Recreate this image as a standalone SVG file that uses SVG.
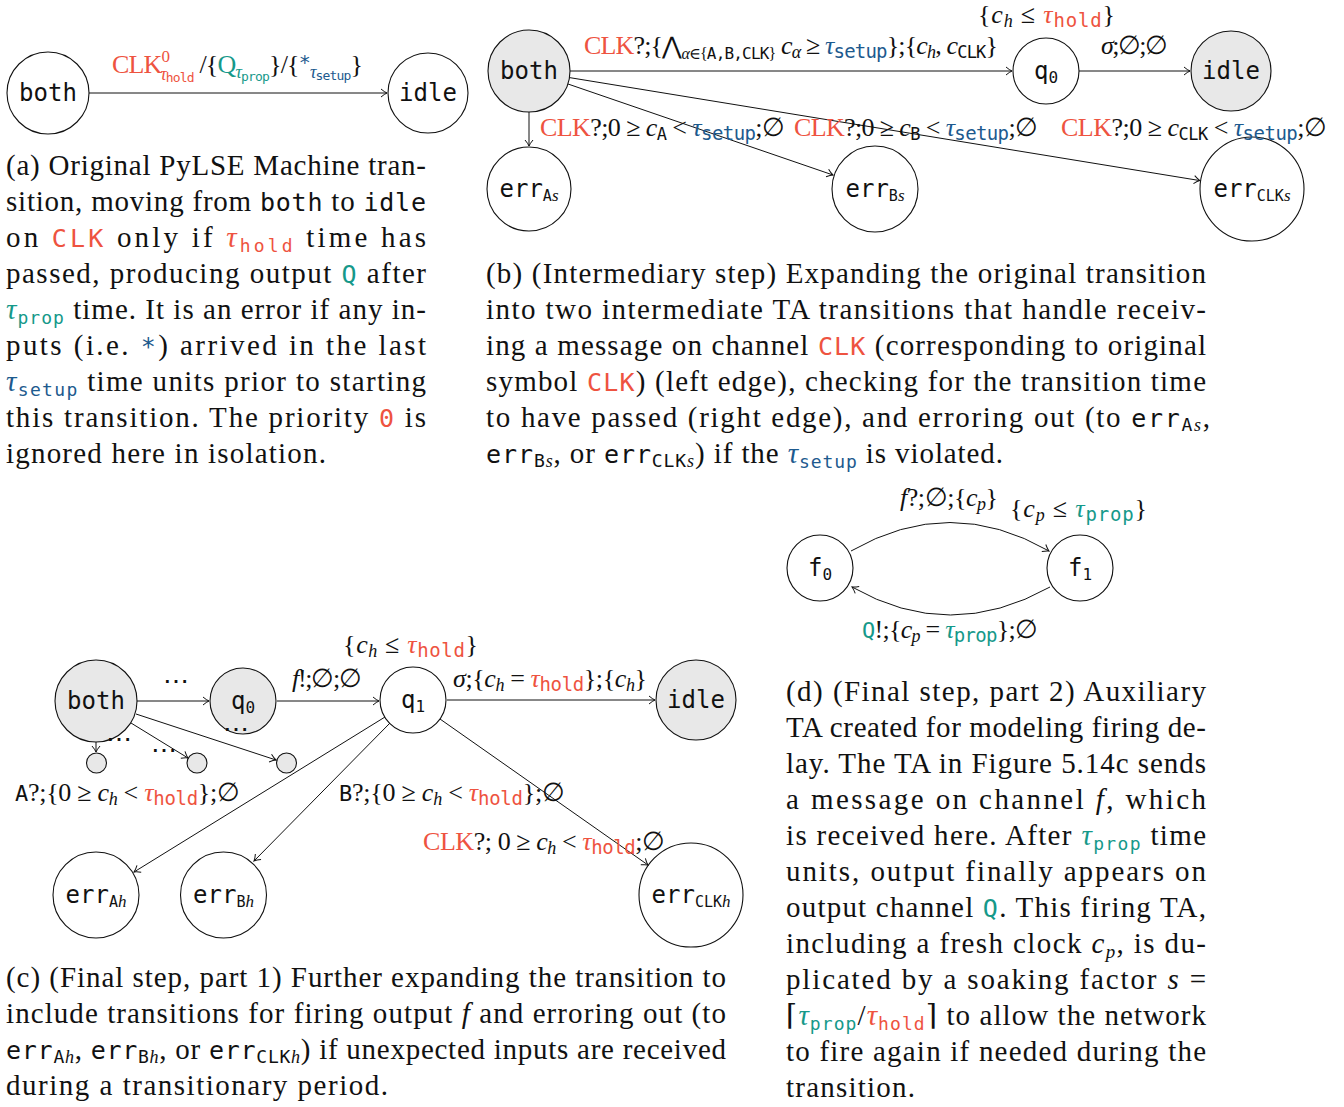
<svg xmlns="http://www.w3.org/2000/svg" width="1344" height="1107" viewBox="0 0 1344 1107">
<defs>
<marker id="ar" markerWidth="12" markerHeight="12" refX="10" refY="6" orient="auto" markerUnits="userSpaceOnUse">
<path d="M4,2 Q7.5,5 10,6 Q7.5,7 4,10" fill="none" stroke="#111" stroke-width="1"/>
</marker>
</defs>
<style>
.cap{font-family:"Liberation Serif","DejaVu Serif",serif;font-size:29px;fill:#111}
.lb{font-family:"Liberation Serif","DejaVu Serif",serif;font-size:26px;fill:#111}
.tt{font-family:"DejaVu Sans Mono","Liberation Mono",monospace}
.tc{font-family:"DejaVu Sans Mono","Liberation Mono",monospace;font-size:25px}
.ts{font-family:"DejaVu Sans Mono","Liberation Mono",monospace;font-size:18px}
.it{font-style:italic}
.r{fill:#EE5340}
.t{fill:#16998A}
.b{fill:#1D5A8E}
.nd{fill:#fff;stroke:#111;stroke-width:1.1}
.g{fill:#e8e8e8}
.e{fill:none;stroke:#111;stroke-width:1;marker-end:url(#ar)}
.nl{font-family:"DejaVu Sans Mono","Liberation Mono",monospace;font-size:24px;fill:#111;text-anchor:middle}
</style>

<!-- (a) -->
<g id="a-both"><circle class="nd" cx="48" cy="93" r="41"/><text class="nl" x="48" y="101">both</text></g>
<g id="a-idle"><circle class="nd" cx="428" cy="93" r="40"/><text class="nl" x="428" y="101">idle</text></g>

<!-- (b) -->
<g id="b-both"><circle class="nd g" cx="529" cy="71" r="41"/><text class="nl" x="529" y="79">both</text></g>
<g id="b-q0"><circle class="nd" cx="1046" cy="71" r="33"/><text class="nl" x="1046" y="79">q<tspan font-size="16" dy="4">0</tspan></text></g>
<g id="b-idle"><circle class="nd g" cx="1231" cy="71" r="40"/><text class="nl" x="1231" y="79">idle</text></g>
<g id="b-errA"><circle class="nd" cx="529" cy="189" r="42"/><text class="nl" x="529" y="197">err<tspan font-size="15" dy="4">A</tspan><tspan class="it" font-family="Liberation Serif" font-size="17">s</tspan></text></g>
<g id="b-errB"><circle class="nd" cx="875" cy="189" r="43"/><text class="nl" x="875" y="197">err<tspan font-size="15" dy="4">B</tspan><tspan class="it" font-family="Liberation Serif" font-size="17">s</tspan></text></g>
<g id="b-errCLK"><circle class="nd" cx="1252" cy="189" r="52"/><text class="nl" x="1252" y="197">err<tspan font-size="15" dy="4">CLK</tspan><tspan class="it" font-family="Liberation Serif" font-size="17">s</tspan></text></g>

<!-- (c) -->
<g id="c-both"><circle class="nd g" cx="96" cy="701" r="41"/><text class="nl" x="96" y="709">both</text></g>
<g id="c-q0"><circle class="nd g" cx="243" cy="701" r="33"/><text class="nl" x="243" y="709">q<tspan font-size="16" dy="4">0</tspan></text></g>
<g id="c-q1"><circle class="nd" cx="413" cy="700" r="33"/><text class="nl" x="413" y="708">q<tspan font-size="16" dy="4">1</tspan></text></g>
<g id="c-idle"><circle class="nd g" cx="696" cy="700" r="40"/><text class="nl" x="696" y="708">idle</text></g>
<g id="c-s1"><circle class="nd g" cx="96.5" cy="763" r="10"/></g>
<g id="c-s2"><circle class="nd g" cx="197" cy="763" r="10"/></g>
<g id="c-s3"><circle class="nd g" cx="286.5" cy="763" r="10"/></g>
<g id="c-errA"><circle class="nd" cx="96" cy="895" r="43"/><text class="nl" x="96" y="903">err<tspan font-size="15" dy="4">A</tspan><tspan class="it" font-family="Liberation Serif" font-size="17">h</tspan></text></g>
<g id="c-errB"><circle class="nd" cx="223.5" cy="895" r="43"/><text class="nl" x="223.5" y="903">err<tspan font-size="15" dy="4">B</tspan><tspan class="it" font-family="Liberation Serif" font-size="17">h</tspan></text></g>
<g id="c-errCLK"><circle class="nd" cx="691" cy="895" r="52"/><text class="nl" x="691" y="903">err<tspan font-size="15" dy="4">CLK</tspan><tspan class="it" font-family="Liberation Serif" font-size="17">h</tspan></text></g>

<!-- (d) -->
<g id="d-f0"><circle class="nd" cx="820" cy="568" r="33"/><text class="nl" x="820" y="576">f<tspan font-size="16" dy="4">0</tspan></text></g>
<g id="d-f1"><circle class="nd" cx="1080" cy="568" r="33"/><text class="nl" x="1080" y="576">f<tspan font-size="16" dy="4">1</tspan></text></g>

<g id="connectors">
<line class="e" x1="89" y1="93" x2="387" y2="93"/>
<line class="e" x1="570" y1="71" x2="1012" y2="71" stroke="#444" stroke-width="1.3"/>
<line class="e" x1="1079" y1="71" x2="1190" y2="71"/>
<line class="e" x1="529" y1="112" x2="529" y2="146"/>
<line class="e" x1="568" y1="84" x2="833" y2="175"/>
<line class="e" x1="569.5" y1="77.6" x2="1200" y2="180.6"/>
<line class="e" x1="137" y1="701" x2="209" y2="701"/>
<line class="e" x1="277" y1="701" x2="379" y2="701"/>
<line class="e" x1="447" y1="700" x2="655" y2="700"/>
<line class="e" x1="96" y1="742" x2="96" y2="752"/>
<line class="e" x1="131" y1="723" x2="188" y2="758"/>
<line class="e" x1="136" y1="714" x2="276" y2="760"/>
<line class="e" x1="385" y1="717" x2="134" y2="872"/>
<line class="e" x1="390" y1="723" x2="254" y2="861"/>
<line class="e" x1="440" y1="719" x2="648" y2="865"/>
<path class="e" d="M851,551 Q950,494 1049,551"/>
<path class="e" d="M1050,587 Q950,643 852,587"/>
</g>

<g id="labels">
<!-- (a) -->
<text class="lb" x="112" y="73" font-size="24" textLength="251"><tspan class="r">CLK</tspan><tspan class="r" font-size="17" dy="-11">0</tspan><tspan class="r it" font-size="18" dx="-9" dy="18">τ</tspan><tspan class="r tt" font-size="13" dy="2">hold</tspan><tspan dy="-9"> /{</tspan><tspan class="t">Q</tspan><tspan class="t it" font-size="18" dy="5">τ</tspan><tspan class="t tt" font-size="13" dy="3">prop</tspan><tspan dy="-8">}/{</tspan><tspan class="b tt" font-size="20" dy="-4">*</tspan><tspan class="b it" font-size="18" dy="9">τ</tspan><tspan class="b tt" font-size="13" dy="2">setup</tspan><tspan dy="-7">}</tspan></text>

<!-- (b) -->
<text class="lb" x="584" y="54" textLength="414"><tspan class="r">CLK</tspan>?;{<tspan font-size="24">⋀</tspan><tspan font-size="16" dy="5"><tspan class="it">α</tspan>∈{<tspan class="tt">A,B,CLK</tspan>}</tspan><tspan dy="-5"> </tspan><tspan class="it">c</tspan><tspan class="it" font-size="18" dy="4">α</tspan><tspan dy="-4"> ≥ </tspan><tspan class="b it">τ</tspan><tspan class="b tt" font-size="19" dy="4">setup</tspan><tspan dy="-4">};{</tspan><tspan class="it">c</tspan><tspan class="it" font-size="18" dy="4">h</tspan><tspan dy="-4">, </tspan><tspan class="it">c</tspan><tspan class="tt" font-size="17" dy="4">CLK</tspan><tspan dy="-4">}</tspan></text>
<text class="lb" x="978" y="23" textLength="137">{<tspan class="it">c</tspan><tspan class="it" font-size="18" dy="4">h</tspan><tspan dy="-4"> ≤ </tspan><tspan class="r it">τ</tspan><tspan class="r tt" font-size="19" dy="4">hold</tspan><tspan dy="-4">}</tspan></text>
<text class="lb" x="1101" y="54" textLength="67"><tspan class="it">σ</tspan>;∅;∅</text>
<text class="lb" x="540" y="136" textLength="245"><tspan class="r">CLK</tspan>?;0 ≥ <tspan class="it">c</tspan><tspan class="tt" font-size="17" dy="4">A</tspan><tspan dy="-4"> &lt; </tspan><tspan class="b it">τ</tspan><tspan class="b tt" font-size="19" dy="4">setup</tspan><tspan dy="-4">;∅</tspan></text>
<text class="lb" x="794" y="136" textLength="244"><tspan class="r">CLK</tspan>?;0 ≥ <tspan class="it">c</tspan><tspan class="tt" font-size="17" dy="4">B</tspan><tspan dy="-4"> &lt; </tspan><tspan class="b it">τ</tspan><tspan class="b tt" font-size="19" dy="4">setup</tspan><tspan dy="-4">;∅</tspan></text>
<text class="lb" x="1061" y="136" textLength="266"><tspan class="r">CLK</tspan>?;0 ≥ <tspan class="it">c</tspan><tspan class="tt" font-size="17" dy="4">CLK</tspan><tspan dy="-4"> &lt; </tspan><tspan class="b it">τ</tspan><tspan class="b tt" font-size="19" dy="4">setup</tspan><tspan dy="-4">;∅</tspan></text>

<!-- (c) -->
<text class="lb" x="163" y="690">⋯</text>
<text class="lb" x="106" y="748">⋯</text>
<text class="lb" x="151" y="759">⋯</text>
<text class="lb" x="223" y="738">⋯</text>
<text class="lb" x="292" y="687" textLength="70"><tspan class="it">f</tspan>!;∅;∅</text>
<text class="lb" x="343" y="653" textLength="135">{<tspan class="it">c</tspan><tspan class="it" font-size="18" dy="4">h</tspan><tspan dy="-4"> ≤ </tspan><tspan class="r it">τ</tspan><tspan class="r tt" font-size="19" dy="4">hold</tspan><tspan dy="-4">}</tspan></text>
<text class="lb" x="453" y="687" textLength="194"><tspan class="it">σ</tspan>;{<tspan class="it">c</tspan><tspan class="it" font-size="18" dy="4">h</tspan><tspan dy="-4"> = </tspan><tspan class="r it">τ</tspan><tspan class="r tt" font-size="19" dy="4">hold</tspan><tspan dy="-4">};{</tspan><tspan class="it">c</tspan><tspan class="it" font-size="18" dy="4">h</tspan><tspan dy="-4">}</tspan></text>
<text class="lb" x="15" y="801" textLength="225"><tspan class="tt" font-size="22">A</tspan>?;{0 ≥ <tspan class="it">c</tspan><tspan class="it" font-size="18" dy="4">h</tspan><tspan dy="-4"> &lt; </tspan><tspan class="r it">τ</tspan><tspan class="r tt" font-size="19" dy="4">hold</tspan><tspan dy="-4">};∅</tspan></text>
<text class="lb" x="339" y="801" textLength="226"><tspan class="tt" font-size="22">B</tspan>?;{0 ≥ <tspan class="it">c</tspan><tspan class="it" font-size="18" dy="4">h</tspan><tspan dy="-4"> &lt; </tspan><tspan class="r it">τ</tspan><tspan class="r tt" font-size="19" dy="4">hold</tspan><tspan dy="-4">};∅</tspan></text>
<text class="lb" x="423" y="850" textLength="242"><tspan class="r">CLK</tspan>?; 0 ≥ <tspan class="it">c</tspan><tspan class="it" font-size="18" dy="4">h</tspan><tspan dy="-4"> &lt; </tspan><tspan class="r it">τ</tspan><tspan class="r tt" font-size="19" dy="4">hold</tspan><tspan dy="-4">;∅</tspan></text>

<!-- (d) -->
<text class="lb" x="900" y="506" textLength="98"><tspan class="it">f</tspan>?;∅;{<tspan class="it">c</tspan><tspan class="it" font-size="18" dy="4">p</tspan><tspan dy="-4">}</tspan></text>
<text class="lb" x="1010" y="517" textLength="137">{<tspan class="it">c</tspan><tspan class="it" font-size="18" dy="4">p</tspan><tspan dy="-4"> ≤ </tspan><tspan class="t it">τ</tspan><tspan class="t tt" font-size="19" dy="4">prop</tspan><tspan dy="-4">}</tspan></text>
<text class="lb" x="862" y="638" textLength="176"><tspan class="t tt" font-size="22">Q</tspan>!;{<tspan class="it">c</tspan><tspan class="it" font-size="18" dy="4">p</tspan><tspan dy="-4"> = </tspan><tspan class="t it">τ</tspan><tspan class="t tt" font-size="19" dy="4">prop</tspan><tspan dy="-4">};∅</tspan></text>
</g>

<g id="captions">
<text class="cap" x="6" y="175" textLength="420">(a) Original PyLSE Machine tran-</text>
<text class="cap" x="6" y="211" textLength="420">sition, moving from <tspan class="tc">both</tspan> to <tspan class="tc">idle</tspan></text>
<text class="cap" x="6" y="247" textLength="420">on <tspan class="tc r">CLK</tspan> only if <tspan class="r it">τ</tspan><tspan class="ts r" dy="5">hold</tspan><tspan dy="-5"> time has</tspan></text>
<text class="cap" x="6" y="283" textLength="420">passed, producing output <tspan class="tc t">Q</tspan> after</text>
<text class="cap" x="6" y="319" textLength="420"><tspan class="t it">τ</tspan><tspan class="ts t" dy="5">prop</tspan><tspan dy="-5"> time. It is an error if any in-</tspan></text>
<text class="cap" x="6" y="355" textLength="420">puts (i.e. <tspan class="tc b">*</tspan>) arrived in the last</text>
<text class="cap" x="6" y="391" textLength="420"><tspan class="b it">τ</tspan><tspan class="ts b" dy="5">setup</tspan><tspan dy="-5"> time units prior to starting</tspan></text>
<text class="cap" x="6" y="427" textLength="420">this transition. The priority <tspan class="tc r">0</tspan> is</text>
<text class="cap" x="6" y="463" textLength="320">ignored here in isolation.</text>

<text class="cap" x="486" y="283" textLength="720">(b) (Intermediary step) Expanding the original transition</text>
<text class="cap" x="486" y="319" textLength="720">into two intermediate TA transitions that handle receiv-</text>
<text class="cap" x="486" y="355" textLength="720">ing a message on channel <tspan class="tc r">CLK</tspan> (corresponding to original</text>
<text class="cap" x="486" y="391" textLength="720">symbol <tspan class="tc r">CLK</tspan>) (left edge), checking for the transition time</text>
<text class="cap" x="486" y="427" textLength="724">to have passed (right edge), and erroring out (to <tspan class="tc">err</tspan><tspan class="ts" font-size="16" dy="4">A</tspan><tspan class="it" font-size="18">s</tspan><tspan dy="-4">,</tspan></text>
<text class="cap" x="486" y="463" textLength="517"><tspan class="tc">err</tspan><tspan class="ts" font-size="16" dy="4">B</tspan><tspan class="it" font-size="18">s</tspan><tspan dy="-4">, or </tspan><tspan class="tc">err</tspan><tspan class="ts" font-size="16" dy="4">CLK</tspan><tspan class="it" font-size="18">s</tspan><tspan dy="-4">) if the </tspan><tspan class="b it">τ</tspan><tspan class="ts b" dy="5">setup</tspan><tspan dy="-5"> is violated.</tspan></text>

<text class="cap" x="6" y="987" textLength="720">(c) (Final step, part 1) Further expanding the transition to</text>
<text class="cap" x="6" y="1023" textLength="720">include transitions for firing output <tspan class="it">f</tspan> and erroring out (to</text>
<text class="cap" x="6" y="1059" textLength="720"><tspan class="tc">err</tspan><tspan class="ts" font-size="16" dy="4">A</tspan><tspan class="it" font-size="18">h</tspan><tspan dy="-4">, </tspan><tspan class="tc">err</tspan><tspan class="ts" font-size="16" dy="4">B</tspan><tspan class="it" font-size="18">h</tspan><tspan dy="-4">, or </tspan><tspan class="tc">err</tspan><tspan class="ts" font-size="16" dy="4">CLK</tspan><tspan class="it" font-size="18">h</tspan><tspan dy="-4">) if unexpected inputs are received</tspan></text>
<text class="cap" x="6" y="1095" textLength="382">during a transitionary period.</text>

<text class="cap" x="786" y="701" textLength="420">(d) (Final step, part 2) Auxiliary</text>
<text class="cap" x="786" y="737" textLength="420">TA created for modeling firing de-</text>
<text class="cap" x="786" y="773" textLength="420">lay. The TA in Figure 5.14c sends</text>
<text class="cap" x="786" y="809" textLength="420">a message on channel <tspan class="it">f</tspan>, which</text>
<text class="cap" x="786" y="845" textLength="420">is received here. After <tspan class="t it">τ</tspan><tspan class="ts t" dy="5">prop</tspan><tspan dy="-5"> time</tspan></text>
<text class="cap" x="786" y="881" textLength="420">units, output finally appears on</text>
<text class="cap" x="786" y="917" textLength="420">output channel <tspan class="tc t">Q</tspan>. This firing TA,</text>
<text class="cap" x="786" y="953" textLength="420">including a fresh clock <tspan class="it">c</tspan><tspan class="it" font-size="19" dy="5">p</tspan><tspan dy="-5">, is du-</tspan></text>
<text class="cap" x="786" y="989" textLength="420">plicated by a soaking factor <tspan class="it">s</tspan> =</text>
<text class="cap" x="786" y="1025" textLength="420">⌈<tspan class="t it">τ</tspan><tspan class="ts t" dy="5">prop</tspan><tspan dy="-5">/</tspan><tspan class="r it">τ</tspan><tspan class="ts r" dy="5">hold</tspan><tspan dy="-5">⌉ to allow the network</tspan></text>
<text class="cap" x="786" y="1061" textLength="420">to fire again if needed during the</text>
<text class="cap" x="786" y="1097" textLength="129">transition.</text>
</g>
</svg>
